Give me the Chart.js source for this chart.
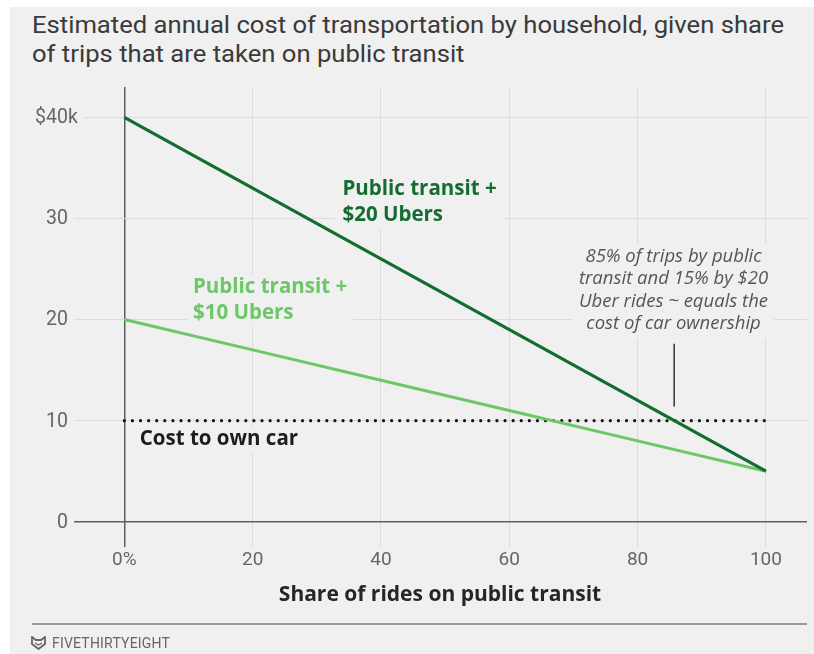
<!DOCTYPE html>
<html>
<head>
<meta charset="utf-8">
<script src="https://cdn.jsdelivr.net/npm/chart.js@4/dist/chart.umd.min.js"></script>
<style>
    body {
        margin: 0;
        width: 814px;
        height: 654px;
        overflow: hidden;
        position: relative;
        background: #ffffff;
        font-family: Roboto, "DejaVu Sans", sans-serif;
    }

    #panel {
        position: absolute;
        left: 10px;
        top: 7px;
        right: 0;
        bottom: 0;
        background: #f0f0f0;
    }

    #title {
        position: absolute;
        left: 32px;
        top: 11px;
        color: #3a3a3a;
        font-size: 23px;
        line-height: 29px;
        white-space: nowrap;
        transform-origin: 0 0;
    }

    #chart {
        position: absolute;
        left: 0;
        top: 0;
    }

    #rule {
        position: absolute;
        left: 32px;
        top: 623px;
        width: 775px;
        height: 2px;
        background: #9a9a9a;
    }

    #footer {
        position: absolute;
        left: 31px;
        top: 635px;
        height: 16px;
        display: flex;
        align-items: center;
        color: #666666;
        font-family: Roboto, sans-serif;
        font-size: 14px;
        letter-spacing: 0.2px;
    }

    #footer svg {
        margin-right: 6px;
    }
</style>
</head>
<body>
<div id="panel"></div>
<div id="title">Estimated annual cost of transportation by household, given share<br>of trips that are taken on public transit</div>
<canvas id="chart" width="814" height="654"></canvas>
<div id="rule"></div>
<div id="footer">
    <svg width="15" height="14" viewBox="0 0 15 14">
        <path d="M1 1 L5 4 L10 4 L14 1 L14 8 L7.5 13 L1 8 Z" fill="none" stroke="#666" stroke-width="1.8"/>
        <path d="M4 7 L7.5 9 L11 7" fill="none" stroke="#666" stroke-width="1.4"/>
    </svg>
    <span>FIVETHIRTYEIGHT</span>
</div>

<script>
const xValues = [0, 20, 40, 60, 80, 100];
const transitUber20 = [40, 33, 26, 19, 12, 5];
const transitUber10 = [20, 17, 14, 11, 8, 5];
const carOwnership = [10, 10, 10, 10, 10, 10];

const xTicks = [0, 20, 40, 60, 80, 100];
const xTickLabels = ["0%", "20", "40", "60", "80", "100"];
const yTicks = [0, 10, 20, 30, 40];
const yTickLabels = ["0", "10", "20", "30", "$40k"];

const darkGreen = "#136c30";
const lightGreen = "#6dc768";
const background = "#f0f0f0";
const tickFont = "Roboto, sans-serif";
const labelFont = "\"Open Sans\", Roboto, sans-serif";

// text placed in data units, converted through the scales
const seriesLabels = [
    { lines: ["Public transit +", "$20 Ubers"], color: darkGreen, x: 34, y: 32.3 },
    { lines: ["Public transit +", "$10 Ubers"], color: lightGreen, x: 10.7, y: 22.6 },
    { lines: ["Cost to own car"], color: "#1d1d1d", x: 2.4, y: 7.6 }
];

const note = {
    lines: ["85% of trips by public", "transit and 15% by $20", "Uber rides ~ equals the", "cost of car ownership"],
    x: 85.6,
    y: 25.7,
    pointerX: 85.7,
    pointerFrom: 17.6,
    pointerTo: 11.4
};

const toPoints = (values) => {
    const points = [];

    for (let i = 0; i < xValues.length; i++) {
        points.push({ x: xValues[i], y: values[i] });
    }

    return points;
};

const drawBackdrop = (ctx, left, top, right, bottom) => {
    ctx.fillStyle = background;
    ctx.fillRect(left, top, right - left, bottom - top);
};

const annotationPlugin = {
    id: "annotations",
    beforeDatasetsDraw(chart) {
        const ctx = chart.ctx;
        const xScale = chart.scales.x;
        const yScale = chart.scales.y;
        const area = chart.chartArea;

        ctx.save();

        // y tick labels, numbers right aligned, "k" hanging
        ctx.font = `19.5px ${tickFont}`;
        ctx.textBaseline = "middle";
        ctx.textAlign = "right";

        for (let i = 0; i < yTicks.length; i++) {
            const label = yTickLabels[i];
            const parts = label.match(/^(\D*)(\d+)(\D*)$/);
            const suffixWidth = ctx.measureText(parts[3]).width;
            const right = 68 + suffixWidth;
            const y = yScale.getPixelForValue(yTicks[i]);

            if (right + 6 > area.left) {
                drawBackdrop(ctx, area.left - 1, y - 3, right + 6, y + 3);
            }

            ctx.fillStyle = "#666666";
            ctx.fillText(label, right, y + 1);
        }

        // series labels
        ctx.textAlign = "left";
        ctx.textBaseline = "alphabetic";
        ctx.font = `bold 20.5px ${labelFont}`;

        for (let label of seriesLabels) {
            const x = xScale.getPixelForValue(label.x);
            const y = yScale.getPixelForValue(label.y);
            let width = 0;

            for (let line of label.lines) {
                width = Math.max(width, ctx.measureText(line).width);
            }

            drawBackdrop(ctx, x - 6, y - 19, x + width + 6, y + 26 * (label.lines.length - 1) + 7);

            ctx.fillStyle = label.color;
            label.lines.forEach((line, index) => {
                ctx.fillText(line, x, y + index * 26);
            });
        }

        // note
        ctx.font = `italic 18.5px ${labelFont}`;
        ctx.textAlign = "center";
        const noteX = xScale.getPixelForValue(note.x);
        const noteY = yScale.getPixelForValue(note.y);
        let noteWidth = 0;

        for (let line of note.lines) {
            noteWidth = Math.max(noteWidth, ctx.measureText(line).width);
        }

        drawBackdrop(ctx, noteX - noteWidth / 2 - 6, noteY - 18, noteX + noteWidth / 2 + 6, noteY + 22.4 * (note.lines.length - 1) + 9);

        ctx.fillStyle = "#555555";
        note.lines.forEach((line, index) => {
            ctx.fillText(line, noteX, noteY + index * 22.4);
        });

        const pointerX = xScale.getPixelForValue(note.pointerX);
        ctx.strokeStyle = "#333333";
        ctx.lineWidth = 1.5;
        ctx.beginPath();
        ctx.moveTo(pointerX, yScale.getPixelForValue(note.pointerFrom));
        ctx.lineTo(pointerX, yScale.getPixelForValue(note.pointerTo));
        ctx.stroke();

        ctx.restore();
    }
};

const gridColor = (context) => {
    if (context.tick && context.tick.value === 0) {
        return "#5e5e5e";
    }

    return "#dcdcdc";
};

const gridWidth = (context) => {
    if (context.tick && context.tick.value === 0) {
        return 1.5;
    }

    return 1;
};

new Chart(document.querySelector("#chart"), {
    type: "line",
    data: {
        datasets: [
            {
                label: "Cost to own car",
                data: toPoints(carOwnership),
                borderColor: "#111111",
                borderWidth: 3.2,
                borderDash: [0, 8.1],
                borderCapStyle: "round",
                pointRadius: 0,
                order: 3
            },
            {
                label: "Public transit + $10 Ubers",
                data: toPoints(transitUber10),
                borderColor: lightGreen,
                borderWidth: 3,
                pointRadius: 0,
                order: 2
            },
            {
                label: "Public transit + $20 Ubers",
                data: toPoints(transitUber20),
                borderColor: darkGreen,
                borderWidth: 3.2,
                pointRadius: 0,
                order: 1
            }
        ]
    },
    options: {
        responsive: false,
        animation: false,
        devicePixelRatio: 1,
        layout: {
            padding: { left: 0, top: 87, right: 7, bottom: 0 }
        },
        plugins: {
            legend: { display: false },
            tooltip: { enabled: false }
        },
        scales: {
            x: {
                type: "linear",
                min: -8,
                max: 106.4,
                afterBuildTicks: (scale) => {
                    scale.ticks = xTicks.map((value) => ({ value: value }));
                },
                afterFit: (scale) => {
                    scale.height = 107;
                },
                border: { display: false },
                grid: {
                    color: gridColor,
                    lineWidth: gridWidth,
                    drawTicks: false
                },
                ticks: {
                    callback: (value) => xTickLabels[xTicks.indexOf(value)],
                    font: { family: tickFont, size: 19 },
                    color: "#666666",
                    padding: 2,
                    maxRotation: 0,
                    autoSkip: false
                },
                title: {
                    display: true,
                    text: "Share of rides on public transit",
                    font: { family: labelFont, size: 21, weight: "bold" },
                    color: "#262626",
                    padding: { top: 0, bottom: 46 }
                }
            },
            y: {
                type: "linear",
                min: -2.5,
                max: 43,
                afterBuildTicks: (scale) => {
                    scale.ticks = yTicks.map((value) => ({ value: value }));
                },
                afterFit: (scale) => {
                    scale.width = 73;
                },
                border: { display: false },
                grid: {
                    color: gridColor,
                    lineWidth: gridWidth,
                    drawTicks: false
                },
                ticks: { display: false }
            }
        }
    },
    plugins: [annotationPlugin]
});

// squeeze the title to the width of the original condensed face
const title = document.querySelector("#title");
const titleWidth = title.getBoundingClientRect().width;
title.style.transform = `scaleX(${752 / titleWidth})`;
</script>
</body>
</html>
